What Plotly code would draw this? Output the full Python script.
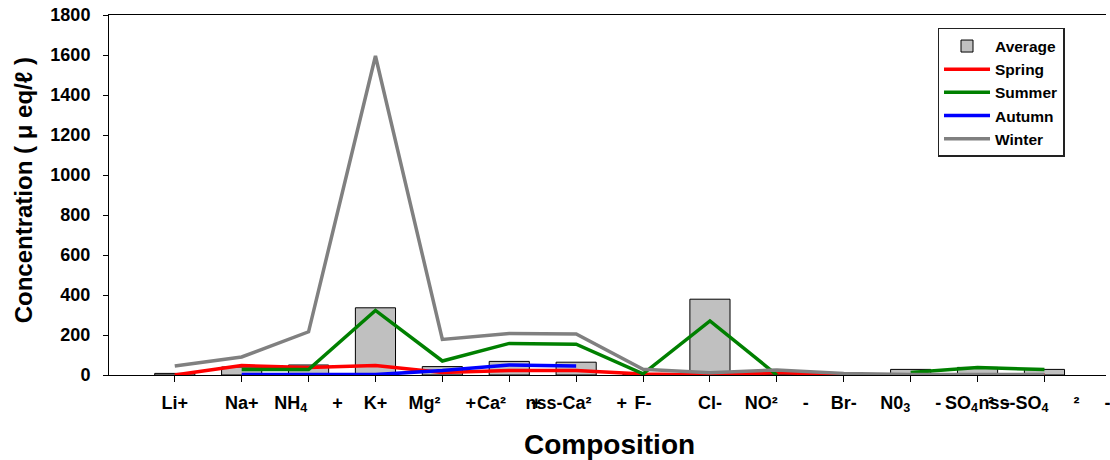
import plotly.graph_objects as go

NB = "\u00a0"
categories = ["Li+", "Na+", "NH4+", "K+", "Mg2+", "Ca2+", "nss-Ca2+", "F-", "Cl-",
              "NO2-", "Br-", "NO3-", "SO4 2-", "nss-SO4 2-"]
tick_labels = [
    "Li+", "Na+", "NH<sub>4</sub>" + NB * 5 + "+", "K+", "Mg²" + NB * 5 + "+",
    "Ca²" + NB * 5 + "+", "nss-Ca²" + NB * 5 + "+", "F-", "Cl-", "NO²" + NB * 5 + "-",
    "Br-", "N0<sub>3</sub>" + NB * 5 + "-", "SO<sub>4</sub>" + NB * 2 + "²" + NB * 2 + "-",
    "nss-SO<sub>4</sub>" + NB * 5 + "²" + NB * 5 + "-",
]
average = [8, 40, 50, 336, 42, 68, 64, 5, 379, 5, 2, 28, 38, 28]
spring = [0, 47, 37, 48, 12, 22, 22, 5, 0, 12, 2, 1, 1, 1]
summer = [None, 28, 27, 323, 70, 158, 154, 6, 270, 0, None, 13, 37, 28]
autumn = [None, 2, 2, 2, 22, 50, 45, None, None, None, None, None, None, None]
winter = [45, 90, 216, 1595, 178, 208, 205, 29, 11, 25, 8, 2, 2, 2]

xpos = list(range(1, len(categories) + 1))
FONT = "Liberation Sans, Arial, sans-serif"

fig = go.Figure()
fig.add_trace(go.Bar(x=xpos, y=average, name="Average", width=0.6,
                     marker=dict(color="#c0c0c0", line=dict(color="#000000", width=1))))
for name, vals, col in [("Spring", spring, "#ff0000"), ("Summer", summer, "#008000"),
                        ("Autumn", autumn, "#0000ff"), ("Winter", winter, "#808080")]:
    fig.add_trace(go.Scatter(x=xpos, y=vals, name=name, mode="lines",
                             line=dict(color=col, width=3.5), connectgaps=False))

fig.update_layout(
    width=1110, height=460,
    margin=dict(l=109, r=0, t=15, b=85),
    plot_bgcolor="white", paper_bgcolor="white",
    font=dict(family=FONT, color="#000000"),
    showlegend=True,
    legend=dict(x=0.831, y=0.964, xanchor="left", yanchor="top",
                bgcolor="white", bordercolor="#222222", borderwidth=1.5,
                font=dict(family=FONT, size=15.5, color="#000000", weight="bold"),
                itemwidth=46, traceorder="normal"),
    xaxis=dict(range=[0.017, 14.92], tickmode="array", tickvals=xpos, ticktext=tick_labels,
               showgrid=False, zeroline=False, showline=True, linecolor="#000000", linewidth=1,
               mirror=True, ticks="outside", ticklen=6, tickcolor="#000000",
               ticklabeloverflow="allow", ticklabelstandoff=5,
               tickfont=dict(family=FONT, size=18, weight="bold"), tickangle=0),
    yaxis=dict(range=[0, 1800], dtick=200, showgrid=False, zeroline=False, showline=True,
               linecolor="#000000", linewidth=1, ticks="outside", ticklen=5, tickcolor="#000000",
               ticklabelstandoff=9,
               tickfont=dict(family=FONT, size=18, weight="bold")),
    annotations=[
        dict(text="Concentration ( μ eq/ℓ )", xref="paper", yref="paper",
             x=-0.0849, y=0.514, xanchor="center", yanchor="middle",
             showarrow=False, textangle=-90,
             font=dict(family=FONT, size=24, weight="bold", color="#000000")),
        dict(text="Composition", xref="paper", yref="paper", x=0.5025, y=-0.194,
             xanchor="center", yanchor="middle",
             showarrow=False, font=dict(family=FONT, size=28, weight="bold", color="#000000")),
    ],
)

fig.write_html("out.html")
